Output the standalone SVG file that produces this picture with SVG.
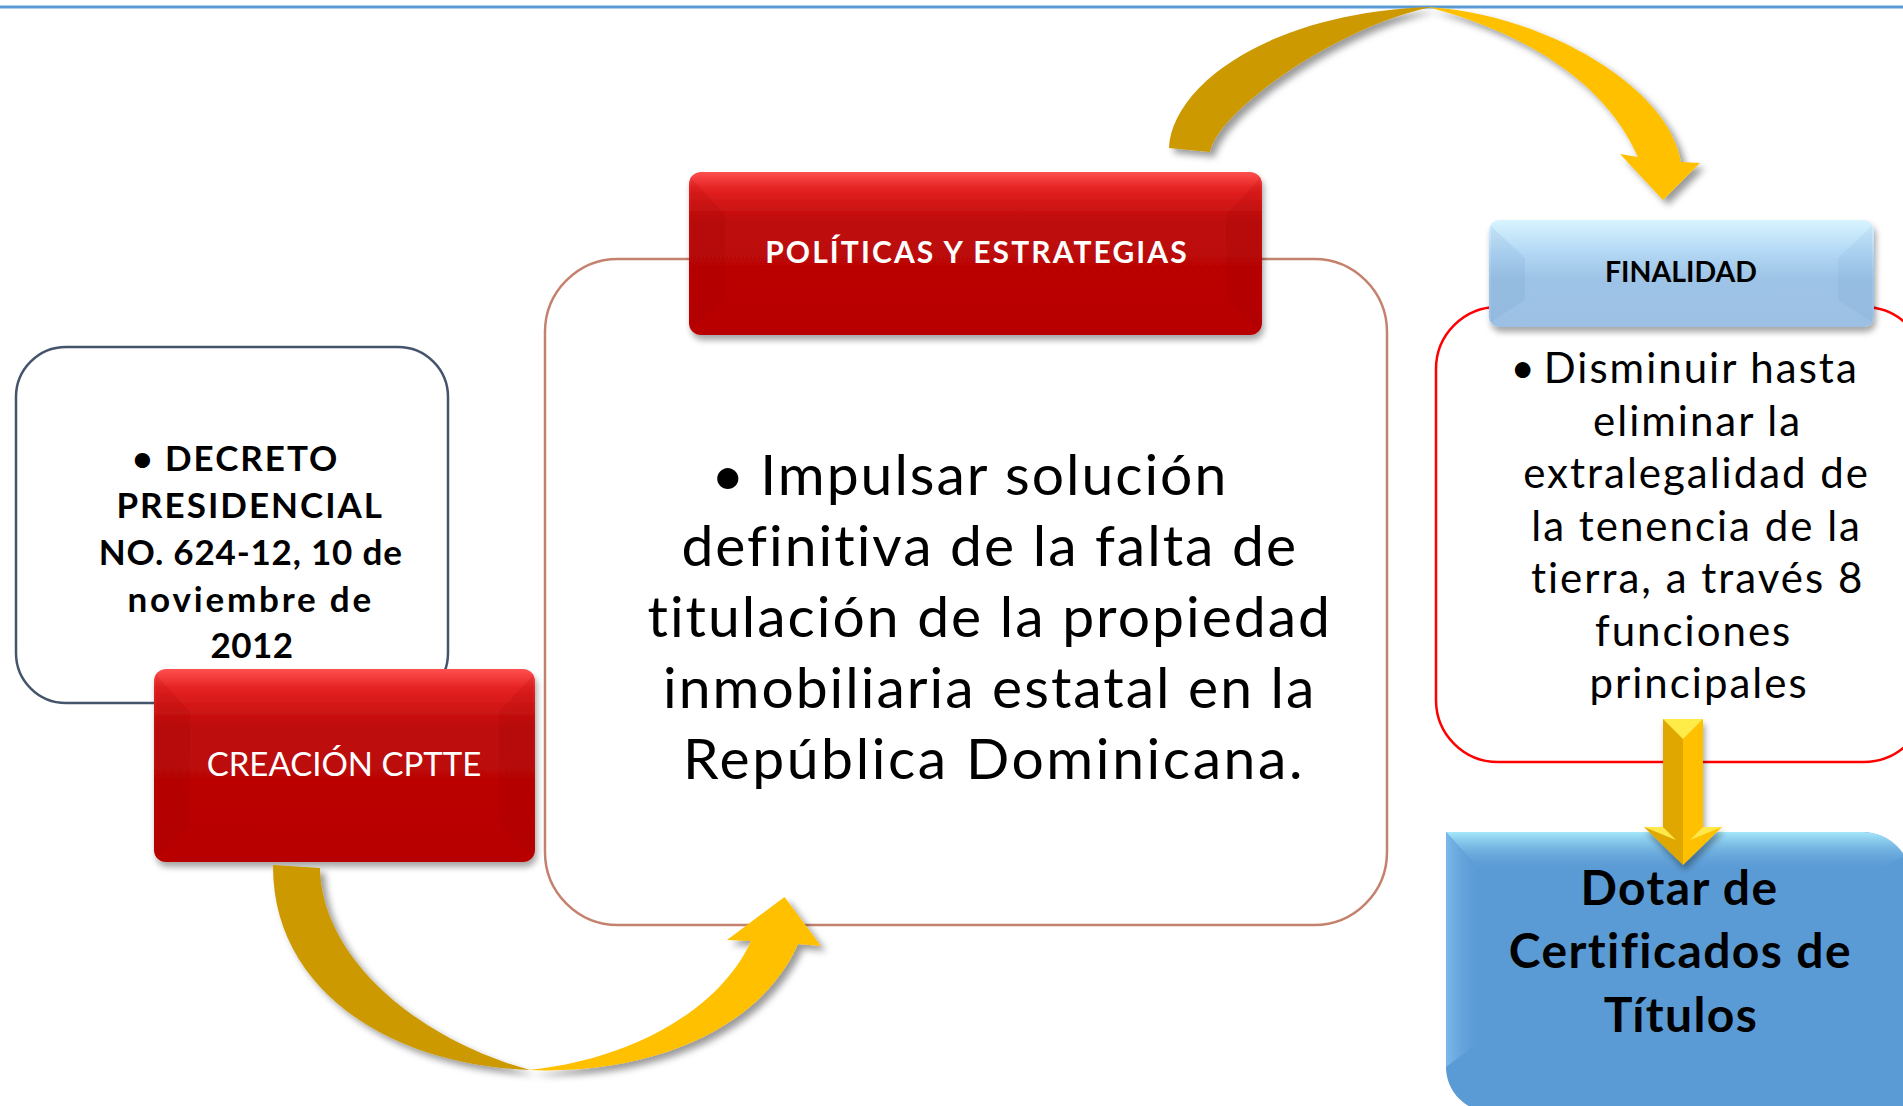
<svg xmlns="http://www.w3.org/2000/svg" width="1903" height="1106" viewBox="0 0 1903 1106">
<style>
  .t { font-family: Lato, "Liberation Sans", sans-serif; fill: #000; text-anchor: middle; }
  .b { font-weight: bold; }
  .w { fill: #fff; }
</style>
<defs>
  <filter id="sh" x="-10%" y="-10%" width="125%" height="135%">
    <feDropShadow dx="2" dy="5" stdDeviation="3" flood-color="#000" flood-opacity="0.35"/>
  </filter>
  <filter id="ash" x="-10%" y="-10%" width="130%" height="130%">
    <feDropShadow dx="5" dy="5" stdDeviation="3.5" flood-color="#000" flood-opacity="0.4"/>
  </filter>
  <linearGradient id="red" x1="0" y1="0" x2="0" y2="1">
    <stop offset="0" stop-color="#FF5050"/>
    <stop offset="0.1" stop-color="#E52222"/>
    <stop offset="0.3" stop-color="#BE0A0A"/>
    <stop offset="1" stop-color="#B80000"/>
  </linearGradient>
  <linearGradient id="lblue" x1="0" y1="0" x2="0" y2="1">
    <stop offset="0" stop-color="#D8F4FF"/>
    <stop offset="0.3" stop-color="#B3D8F5"/>
    <stop offset="0.55" stop-color="#9DC3E6"/>
    <stop offset="1" stop-color="#9CC0E3"/>
  </linearGradient>
  <linearGradient id="dtop" x1="0" y1="0" x2="0" y2="1">
    <stop offset="0" stop-color="#A6E8FB"/>
    <stop offset="1" stop-color="#5B9BD5" stop-opacity="0"/>
  </linearGradient>
  <linearGradient id="dleft" x1="0" y1="0" x2="1" y2="0">
    <stop offset="0" stop-color="#7CB8EA"/>
    <stop offset="1" stop-color="#5B9BD5" stop-opacity="0"/>
  </linearGradient>
</defs>

<line x1="0" y1="7" x2="1903" y2="7" stroke="#5B9BD5" stroke-width="3"/>

<g id="node-decreto">
  <rect x="16" y="347" width="432" height="356" rx="50" fill="#fff" stroke="#44546A" stroke-width="2.5"/>
  <text class="t b" font-size="35" letter-spacing="2">
    <tspan x="241" y="471">• DECRETO</tspan>
    <tspan x="255" y="518">PRESIDENCIAL</tspan>
    <tspan x="256" y="565" letter-spacing="0.8">NO. 624-12, 10 de</tspan>
    <tspan x="256" y="612" letter-spacing="2.8">noviembre de</tspan>
    <tspan x="252" y="658" letter-spacing="0.5">2012</tspan>
  </text>
</g>

<g id="node-impulsar">
  <rect x="545" y="259" width="842" height="666" rx="73" fill="#fff" stroke="#C4826E" stroke-width="2.5"/>
  <text class="t" font-size="57" letter-spacing="2">
    <tspan x="978" y="495">•<tspan dx="14">Impulsar solución</tspan></tspan>
    <tspan x="998" y="566">definitiva de la falta de</tspan>
    <tspan x="998" y="637">titulación de la propiedad</tspan>
    <tspan x="998" y="708">inmobiliaria estatal en la</tspan>
    <tspan x="994" y="779" letter-spacing="2.6">República Dominicana.</tspan>
  </text>
</g>

<g id="node-creacion">
  <g filter="url(#sh)">
    <rect x="154" y="669" width="381" height="193" rx="12" fill="url(#red)"/>
  </g>
  <polygon points="156,675 190,712 190,825 156,858" fill="#8A0000" opacity="0.12"/>
  <polygon points="533,675 499,712 499,825 533,858" fill="#8A0000" opacity="0.12"/>
  <text class="t w" font-size="33" x="344" y="776">CREACIÓN CPTTE</text>
</g>

<g id="node-politicas">
  <g filter="url(#sh)">
    <rect x="689" y="172" width="573" height="163" rx="12" fill="url(#red)"/>
  </g>
  <polygon points="691,178 725,215 725,300 691,330" fill="#8A0000" opacity="0.12"/>
  <polygon points="1260,178 1226,215 1226,300 1260,330" fill="#8A0000" opacity="0.12"/>
  <text class="t b w" font-size="30" letter-spacing="2.1" x="977" y="263">POLÍTICAS Y ESTRATEGIAS</text>
</g>

<g id="node-finalidad-body">
  <rect x="1436" y="307" width="490" height="455" rx="62" fill="#fff" stroke="#FF0000" stroke-width="2.5"/>
  <text class="t" font-size="42" letter-spacing="2">
    <tspan x="1691" y="383">•<tspan dx="7">Disminuir hasta</tspan></tspan>
    <tspan x="1704" y="436">eliminar la</tspan>
    <tspan x="1703" y="488">extralegalidad de</tspan>
    <tspan x="1703" y="541">la tenencia de la</tspan>
    <tspan x="1704" y="593">tierra, a través 8</tspan>
    <tspan x="1700" y="646">funciones</tspan>
    <tspan x="1699" y="698">principales</tspan>
  </text>
</g>

<g id="node-finalidad">
  <g filter="url(#sh)">
    <rect x="1489" y="220" width="385" height="107" rx="10" fill="url(#lblue)"/>
  </g>
  <polygon points="1491,226 1525,258 1525,300 1491,322" fill="#5B8FC0" opacity="0.12"/>
  <polygon points="1872,226 1838,258 1838,300 1872,322" fill="#5B8FC0" opacity="0.1"/>
  <text class="t b" font-size="28.5" x="1681" y="282">FINALIDAD</text>
</g>

<g id="node-dotar">
  <path d="M1446,832 H1862 A50,50 0 0 1 1912,882 V1130 H1446 Z" fill="#5B9BD5"/>
  <path d="M1446,1060 V1067 A45,45 0 0 0 1491,1112 H1446 Z" fill="#fff"/>
  <path d="M1446,832 H1862 A50,50 0 0 1 1905,856 L1870,872 H1482 Z" fill="url(#dtop)"/>
  <path d="M1446,832 L1482,872 V1040 L1446,1067 Z" fill="url(#dleft)"/>
  <text class="t b" font-size="48" letter-spacing="1.4">
    <tspan x="1686" y="905">Dotar de</tspan>
    <tspan x="1687" y="968">Certificados de</tspan>
    <tspan x="1681" y="1032">Títulos</tspan>
  </text>
</g>

<g id="connectors">
  <g id="arc-bottom" filter="url(#ash)">
    <path d="M273,865 C272,990 390,1065 530,1070 C420,1040 322,960 320,868 Z" fill="#CC9A00"/>
    <path d="M528,1070 C650,1075 760,1030 798,944 L821,946 L784.5,897 L727,940 L751,941 C720,1010 630,1060 528,1070 Z" fill="#FFC000"/>
  </g>
  <g id="arc-top" filter="url(#ash)">
    <path d="M1169,148 C1172,85 1270,12 1432,7 C1340,25 1218,110 1210,152 Z" fill="#CC9A00"/>
    <path d="M1428,7 C1550,15 1670,90 1681,162 L1700,163 L1663,200 L1620,154 L1638,157 C1620,115 1570,45 1428,7 Z" fill="#FFC000"/>
  </g>
  <g id="arrow-down" filter="url(#sh)">
    <rect x="1663" y="719" width="20" height="108" fill="#DFA700"/>
    <rect x="1683" y="719" width="20" height="108" fill="#FFC000"/>
    <polygon points="1663,719 1703,719 1683,739" fill="#FFEC4A"/>
    <polygon points="1644,827 1683,827 1683,865" fill="#DFA700"/>
    <polygon points="1683,827 1722,827 1683,865" fill="#FFC000"/>
    <polygon points="1644,827 1663,827 1676,840" fill="#FFE848"/>
    <polygon points="1722,827 1703,827 1690,840" fill="#FFE848"/>
  </g>
</g>
</svg>
